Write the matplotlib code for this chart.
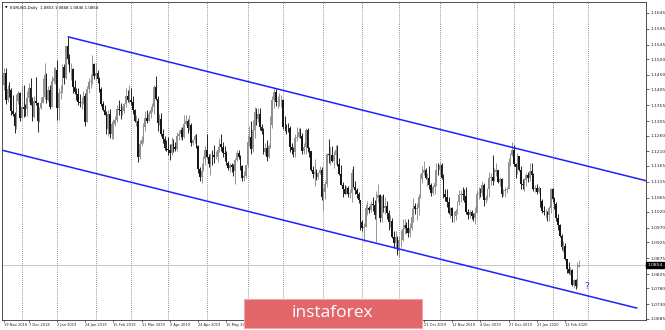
import numpy as np
import matplotlib
matplotlib.use("Agg")
import matplotlib.pyplot as plt
from matplotlib.patches import Rectangle
from matplotlib.transforms import blended_transform_factory

# EURUSD daily, 19 Nov 2018 .. 24 Feb 2020 (one value per bar)
first_open = 1.1417
close = [
    # Nov 2018
    1.1455, 1.1370, 1.1405, 1.1403, 1.1336, 1.1328, 1.1289, 1.1369, 1.1393, 1.1316,
    # Dec 2018
    1.1351, 1.1343, 1.1342, 1.1377, 1.1408, 1.1357, 1.1318, 1.1369, 1.1362, 1.1307,
    1.1347, 1.1361, 1.1381, 1.1450, 1.1370, 1.1404, 1.1350, 1.1430, 1.1440, 1.1467,
    # Jan 2019
    1.1345, 1.1392, 1.1395, 1.1475, 1.1442, 1.1541, 1.1501, 1.1468, 1.1470, 1.1412, 1.1395,
    1.1390, 1.1365, 1.1362, 1.1366, 1.1385, 1.1303, 1.1405, 1.1428, 1.1431, 1.1483, 1.1446,
    # Feb 2019
    1.1456, 1.1436, 1.1405, 1.1358, 1.1340, 1.1325, 1.1279, 1.1327, 1.1264, 1.1295,
    1.1295, 1.1310, 1.1342, 1.1340, 1.1337, 1.1337, 1.1358, 1.1384, 1.1370, 1.1371,
    # Mar 2019
    1.1365, 1.1340, 1.1305, 1.1307, 1.1192, 1.1234, 1.1245, 1.1288, 1.1316, 1.1304, 1.1326,
    1.1340, 1.1350, 1.1413, 1.1374, 1.1298, 1.1312, 1.1265, 1.1250, 1.1222, 1.1217,
    # Apr 2019
    1.1213, 1.1204, 1.1233, 1.1223, 1.1217, 1.1260, 1.1264, 1.1276, 1.1254, 1.1296, 1.1306,
    1.1284, 1.1292, 1.1235, 1.1245, 1.1257, 1.1227, 1.1154, 1.1131, 1.1150, 1.1185, 1.1214,
    # May 2019
    1.1194, 1.1172, 1.1200, 1.1198, 1.1191, 1.1194, 1.1216, 1.1234, 1.1225, 1.1205, 1.1203, 1.1173,
    1.1157, 1.1166, 1.1161, 1.1150, 1.1182, 1.1205, 1.1192, 1.1164, 1.1128, 1.1132, 1.1169,
    # Jun 2019
    1.1240, 1.1254, 1.1219, 1.1277, 1.1334, 1.1312, 1.1327, 1.1288, 1.1275, 1.1209,
    1.1221, 1.1193, 1.1226, 1.1293, 1.1370, 1.1398, 1.1364, 1.1368, 1.1370, 1.1371,
    # Jul 2019
    1.1287, 1.1286, 1.1285, 1.1283, 1.1225, 1.1214, 1.1208, 1.1253, 1.1254, 1.1271, 1.1260, 1.1212,
    1.1225, 1.1278, 1.1220, 1.1210, 1.1152, 1.1139, 1.1147, 1.1129, 1.1141, 1.1153, 1.1067,
    # Aug 2019
    1.1082, 1.1108, 1.1203, 1.1198, 1.1200, 1.1179, 1.1200, 1.1214, 1.1170, 1.1140, 1.1106,
    1.1091, 1.1078, 1.1094, 1.1077, 1.1081, 1.1142, 1.1098, 1.1088, 1.1078, 1.1058, 1.0988,
    # Sep 2019
    1.0970, 1.0973, 1.1034, 1.1034, 1.1027, 1.1044, 1.1043, 1.1010, 1.1065, 1.1074, 1.1000,
    1.1069, 1.1031, 1.1039, 1.1018, 1.0990, 1.0993, 1.0942, 1.0922, 1.0940, 1.0898,
    # Oct 2019
    1.0932, 1.0933, 1.0966, 1.0978, 1.0970, 1.0955, 1.0971, 1.1004, 1.1040, 1.1030, 1.1032, 1.1068,
    1.1124, 1.1143, 1.1151, 1.1126, 1.1128, 1.1104, 1.1081, 1.1098, 1.1111, 1.1152, 1.1151,
    # Nov 2019
    1.1166, 1.1128, 1.1075, 1.1066, 1.1050, 1.1018, 1.1032, 1.1006, 1.1008, 1.1022, 1.1051,
    1.1072, 1.1076, 1.1074, 1.1069, 1.1021, 1.1012, 1.1019, 1.1007, 1.1000, 1.1018,
    # Dec 2019
    1.1078, 1.1081, 1.1080, 1.1105, 1.1058, 1.1063, 1.1093, 1.1127, 1.1130, 1.1118, 1.1144,
    1.1151, 1.1113, 1.1122, 1.1078, 1.1087, 1.1089, 1.1091, 1.1176, 1.1200, 1.1213,
    # Jan 2020
    1.1171, 1.1160, 1.1195, 1.1152, 1.1107, 1.1105, 1.1120, 1.1136, 1.1127, 1.1150, 1.1136,
    1.1092, 1.1095, 1.1082, 1.1094, 1.1055, 1.1024, 1.1020, 1.1020, 1.1009, 1.1034, 1.1093,
    # Feb 2020
    1.1060, 1.1045, 1.1000, 1.0980, 1.0944, 1.0909, 1.0914, 1.0872,
    1.0841, 1.0830, 1.0837, 1.0791, 1.0805, 1.0789, 1.0846, 1.0854,
]
high = [
    1.1472, 1.1473, 1.1418, 1.1428, 1.1409, 1.1386, 1.1335, 1.1389, 1.1401, 1.1396,
    1.1420, 1.1419, 1.1358, 1.1400, 1.1424, 1.1441, 1.1380, 1.1384, 1.1443, 1.1364,
    1.1350, 1.1380, 1.1440, 1.1486, 1.1456, 1.1415, 1.1420, 1.1448, 1.1474, 1.1475,
    1.1497, 1.1410, 1.1420, 1.1484, 1.1484, 1.1542, 1.1570, 1.1515, 1.1487, 1.1471, 1.1433,
    1.1410, 1.1410, 1.1390, 1.1380, 1.1399, 1.1394, 1.1415, 1.1440, 1.1452, 1.1514, 1.1488,
    1.1488, 1.1466, 1.1445, 1.1412, 1.1369, 1.1355, 1.1336, 1.1341, 1.1342, 1.1306,
    1.1313, 1.1322, 1.1356, 1.1372, 1.1363, 1.1353, 1.1362, 1.1408, 1.1403, 1.1420,
    1.1408, 1.1384, 1.1342, 1.1323, 1.1316, 1.1245, 1.1257, 1.1298, 1.1338, 1.1339, 1.1338,
    1.1345, 1.1362, 1.1418, 1.1448, 1.1383, 1.1326, 1.1330, 1.1279, 1.1257, 1.1247,
    1.1255, 1.1232, 1.1255, 1.1249, 1.1240, 1.1270, 1.1277, 1.1288, 1.1287, 1.1324, 1.1323,
    1.1313, 1.1324, 1.1299, 1.1250, 1.1265, 1.1264, 1.1230, 1.1162, 1.1174, 1.1196, 1.1226,
    1.1265, 1.1201, 1.1206, 1.1215, 1.1229, 1.1212, 1.1227, 1.1251, 1.1264, 1.1239, 1.1226, 1.1212,
    1.1179, 1.1174, 1.1175, 1.1170, 1.1189, 1.1214, 1.1215, 1.1200, 1.1169, 1.1150, 1.1169,
    1.1261, 1.1291, 1.1307, 1.1309, 1.1348, 1.1345, 1.1346, 1.1346, 1.1296, 1.1282,
    1.1237, 1.1245, 1.1232, 1.1320, 1.1383, 1.1412, 1.1405, 1.1383, 1.1393, 1.1388,
    1.1376, 1.1321, 1.1295, 1.1300, 1.1290, 1.1235, 1.1225, 1.1265, 1.1286, 1.1285, 1.1282, 1.1267,
    1.1238, 1.1282, 1.1283, 1.1224, 1.1211, 1.1163, 1.1186, 1.1155, 1.1147, 1.1164, 1.1161,
    1.1094, 1.1117, 1.1205, 1.1250, 1.1224, 1.1228, 1.1212, 1.1230, 1.1230, 1.1190, 1.1167,
    1.1113, 1.1105, 1.1102, 1.1100, 1.1093, 1.1154, 1.1165, 1.1116, 1.1094, 1.1084, 1.1054,
    1.0994, 1.0986, 1.1045, 1.1055, 1.1039, 1.1055, 1.1068, 1.1058, 1.1087, 1.1109, 1.1076,
    1.1073, 1.1075, 1.1068, 1.1053, 1.1025, 1.1012, 1.1002, 1.0960, 1.0961, 1.0944,
    1.0944, 1.0962, 1.0999, 1.0999, 1.0990, 1.0999, 1.0985, 1.1034, 1.1063, 1.1049, 1.1047, 1.1077,
    1.1139, 1.1163, 1.1179, 1.1159, 1.1143, 1.1163, 1.1111, 1.1106, 1.1128, 1.1175, 1.1175,
    1.1176, 1.1175, 1.1138, 1.1091, 1.1093, 1.1068, 1.1035, 1.1036, 1.1023, 1.1029, 1.1054,
    1.1089, 1.1089, 1.1097, 1.1093, 1.1097, 1.1030, 1.1025, 1.1026, 1.1018, 1.1036,
    1.1090, 1.1098, 1.1096, 1.1117, 1.1111, 1.1072, 1.1096, 1.1145, 1.1143, 1.1200, 1.1157,
    1.1175, 1.1150, 1.1130, 1.1128, 1.1091, 1.1097, 1.1099, 1.1188, 1.1206, 1.1239,
    1.1229, 1.1173, 1.1206, 1.1197, 1.1164, 1.1123, 1.1128, 1.1141, 1.1146, 1.1174, 1.1173,
    1.1143, 1.1104, 1.1107, 1.1100, 1.1095, 1.1060, 1.1040, 1.1030, 1.1024, 1.1038, 1.1096,
    1.1096, 1.1066, 1.1051, 1.1014, 1.0981, 1.0952, 1.0928, 1.0923,
    1.0870, 1.0863, 1.0848, 1.0840, 1.0810, 1.0810, 1.0864, 1.0868,
]
low = [
    1.1402, 1.1360, 1.1364, 1.1380, 1.1324, 1.1320, 1.1267, 1.1279, 1.1359, 1.1304,
    1.1316, 1.1319, 1.1320, 1.1321, 1.1365, 1.1356, 1.1307, 1.1315, 1.1356, 1.1270,
    1.1303, 1.1342, 1.1367, 1.1376, 1.1361, 1.1369, 1.1343, 1.1353, 1.1424, 1.1422,
    1.1310, 1.1309, 1.1375, 1.1392, 1.1422, 1.1436, 1.1483, 1.1459, 1.1434, 1.1394, 1.1389,
    1.1371, 1.1355, 1.1349, 1.1344, 1.1358, 1.1290, 1.1301, 1.1393, 1.1410, 1.1421, 1.1438,
    1.1433, 1.1426, 1.1396, 1.1354, 1.1336, 1.1323, 1.1265, 1.1257, 1.1251, 1.1249,
    1.1249, 1.1290, 1.1301, 1.1325, 1.1313, 1.1324, 1.1330, 1.1351, 1.1364, 1.1362,
    1.1357, 1.1328, 1.1302, 1.1290, 1.1176, 1.1186, 1.1226, 1.1236, 1.1274, 1.1300, 1.1304,
    1.1316, 1.1333, 1.1329, 1.1370, 1.1275, 1.1293, 1.1259, 1.1235, 1.1213, 1.1212,
    1.1198, 1.1184, 1.1200, 1.1207, 1.1212, 1.1212, 1.1245, 1.1248, 1.1245, 1.1253, 1.1292,
    1.1269, 1.1278, 1.1226, 1.1230, 1.1238, 1.1221, 1.1143, 1.1118, 1.1111, 1.1148, 1.1168,
    1.1188, 1.1162, 1.1136, 1.1167, 1.1175, 1.1186, 1.1178, 1.1209, 1.1211, 1.1191, 1.1180, 1.1169,
    1.1152, 1.1147, 1.1147, 1.1134, 1.1107, 1.1180, 1.1185, 1.1151, 1.1116, 1.1117, 1.1126,
    1.1162, 1.1228, 1.1203, 1.1207, 1.1252, 1.1294, 1.1301, 1.1278, 1.1264, 1.1201,
    1.1200, 1.1181, 1.1188, 1.1222, 1.1285, 1.1346, 1.1354, 1.1346, 1.1353, 1.1350,
    1.1279, 1.1275, 1.1264, 1.1270, 1.1208, 1.1203, 1.1194, 1.1194, 1.1242, 1.1253, 1.1253, 1.1203,
    1.1201, 1.1201, 1.1207, 1.1191, 1.1150, 1.1126, 1.1100, 1.1120, 1.1125, 1.1138, 1.1057,
    1.1027, 1.1061, 1.1099, 1.1174, 1.1166, 1.1176, 1.1159, 1.1172, 1.1163, 1.1135, 1.1104,
    1.1066, 1.1075, 1.1076, 1.1066, 1.1063, 1.1051, 1.1098, 1.1078, 1.1065, 1.1048, 1.0963,
    1.0961, 1.0926, 1.0974, 1.1010, 1.1016, 1.1021, 1.1024, 1.0997, 1.0927, 1.1050, 1.0990,
    1.0990, 1.1019, 1.1015, 1.0998, 1.0965, 1.0974, 1.0937, 1.0907, 1.0907, 1.0886,
    1.0879, 1.0909, 1.0928, 1.0952, 1.0954, 1.0940, 1.0940, 1.0963, 1.0988, 1.1014, 1.0995, 1.1011,
    1.1065, 1.1112, 1.1136, 1.1123, 1.1102, 1.1091, 1.1071, 1.1072, 1.1075, 1.1100, 1.1135,
    1.1137, 1.1124, 1.1064, 1.1054, 1.1035, 1.1013, 1.1002, 1.0990, 1.0990, 1.0995, 1.1015,
    1.1041, 1.1052, 1.1058, 1.1051, 1.1014, 1.0998, 1.1000, 1.0999, 1.0992, 1.0981,
    1.1016, 1.1062, 1.1066, 1.1070, 1.1039, 1.1047, 1.1058, 1.1068, 1.1105, 1.1106, 1.1117,
    1.1132, 1.1111, 1.1103, 1.1066, 1.1069, 1.1067, 1.1081, 1.1091, 1.1163, 1.1196,
    1.1164, 1.1126, 1.1140, 1.1148, 1.1091, 1.1092, 1.1086, 1.1100, 1.1114, 1.1117, 1.1126,
    1.1085, 1.1083, 1.1078, 1.1079, 1.1036, 1.1018, 1.1010, 1.1000, 1.0992, 1.0993, 1.1016,
    1.1050, 1.1028, 1.0993, 1.0965, 1.0941, 1.0901, 1.0895, 1.0868,
    1.0830, 1.0826, 1.0823, 1.0788, 1.0781, 1.0778, 1.0786, 1.0846,
]

# bar index of first trading day of each month (vertical separators)
month_start = [10, 30, 52, 72, 93, 115, 138, 158, 181, 203, 224, 247, 268, 289, 311, 331]

# time axis labels (bar index, text)
date_idx = [0, 14, 30, 46, 62, 78, 94, 110, 126, 142, 158, 174, 190, 206, 222,
            238, 254, 270, 286, 302, 318]
date_lbl = ["19 Nov 2018", "7 Dec 2018", "2 Jan 2019", "24 Jan 2019", "15 Feb 2019",
            "11 Mar 2019", "2 Apr 2019", "24 Apr 2019", "16 May 2019", "7 Jun 2019",
            "1 Jul 2019", "23 Jul 2019", "14 Aug 2019", "5 Sep 2019", "27 Sep 2019",
            "21 Oct 2019", "12 Nov 2019", "4 Dec 2019", "27 Dec 2019", "21 Jan 2020",
            "12 Feb 2020"]

price_lbl = ["1.1645", "1.1595", "1.1545", "1.1500", "1.1450", "1.1405", "1.1355",
             "1.1305", "1.1260", "1.1210", "1.1165", "1.1115", "1.1065", "1.1020",
             "1.0970", "1.0925", "1.0875", "1.0825", "1.0780", "1.0730", "1.0685"]

# channel lines drawn on the chart
upper_x = [36, 364]
upper_y = [1.1570, 1.1118]
lower_x = [-1.2, 359]
lower_y = [1.1214, 1.0718]

last_price = 1.0854
header = "EURUSD,Daily  1.0853 1.0868 1.0846 1.0854"

# ------------------------------------------------------------
c = np.array(close)
o = np.r_[first_open, c[:-1]]
h = np.maximum(np.array(high), np.maximum(o, c))
l = np.minimum(np.array(low), np.minimum(o, c))
x = np.arange(len(c))
up = c >= o

fig = plt.figure(figsize=(6.65, 3.3), dpi=100, facecolor="white")
ax = fig.add_axes([2 / 665, 10 / 330, 644 / 665, 318 / 330])
ax.set_xlim(-1.2, 363.9)
ax.set_ylim(1.0681, 1.1679)

for m in month_start:
    ax.axvline(m, color="#6e6e6e", lw=0.6, ls=(0, (1, 1.5)), zorder=1)

ax.axhline(last_price, color="#c8c8c8", lw=0.7, zorder=1)

cols = np.where(up, "#8f8f8f", "#161616")
ax.vlines(x, l, h, colors=cols, lw=0.65, zorder=2)
body = np.maximum(np.abs(c - o), 0.00006)
ax.bar(x, body, bottom=np.minimum(o, c), width=0.9, color=cols, lw=0, zorder=3)

ax.plot(upper_x, upper_y, color="#1f1fff", lw=1.1, zorder=4, solid_capstyle="butt")
ax.plot(lower_x, lower_y, color="#1f1fff", lw=1.1, zorder=4, solid_capstyle="butt")

ax.text(x[-1] + 4.5, 1.0787, "?", color="#2f2fff", fontsize=6.5,
        ha="center", va="center", zorder=5)

# axes look
for s in ax.spines.values():
    s.set_color("#333333")
    s.set_linewidth(0.6)

ax.yaxis.tick_right()
ax.set_yticks([float(p) for p in price_lbl])
ax.set_yticklabels(price_lbl)
ax.tick_params(axis="y", labelsize=3.2, length=2, width=0.5, pad=1, colors="#222222")

ax.set_xticks(date_idx)
ax.set_xticklabels(date_lbl, ha="left")
ax.tick_params(axis="x", labelsize=2.6, length=1.5, width=0.5, pad=1, colors="#222222")

tr = blended_transform_factory(ax.transAxes, ax.transData)
ax.text(1.002, last_price, "1.0854", transform=tr, fontsize=3.2, color="white",
        ha="left", va="center",
        bbox=dict(boxstyle="square,pad=0.25", facecolor="black", edgecolor="black"))

ax.text(3 / 644, 0.982, "\u25bc", transform=ax.transAxes, fontsize=2.4,
        ha="left", va="center", color="black")
ax.text(8 / 644, 0.982, header, transform=ax.transAxes, fontsize=2.8,
        ha="left", va="center", color="black")

# watermark
fig.patches.append(Rectangle((244 / 665, 2 / 330), 178 / 665, 29 / 330,
                             transform=fig.transFigure, facecolor="#e2676b",
                             edgecolor="#f2a4a6", lw=0.8, zorder=10))
fig.text(332 / 665, 17 / 330, "instaforex", color="white", fontsize=12.5,
         family="Open Sans", ha="center", va="center", zorder=11)

fig.savefig("out.png", dpi=100, facecolor="white")
